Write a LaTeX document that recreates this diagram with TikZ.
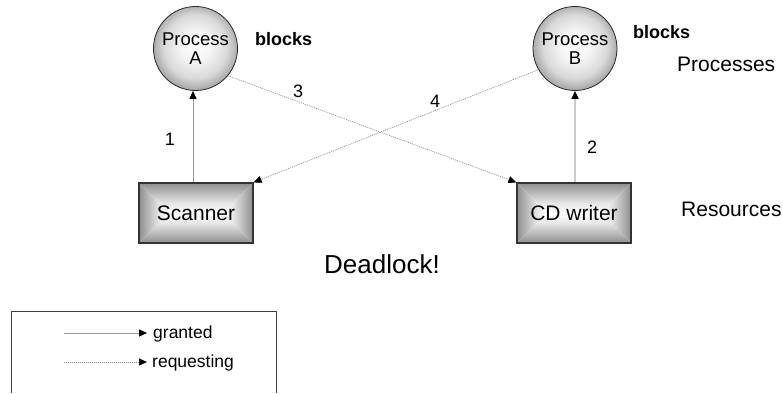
\documentclass[tikz,border=0pt]{standalone}
\usepackage{fontspec}
\setmainfont{Liberation Sans}
\usetikzlibrary{arrows.meta,calc}

\colorlet{edgegray}{black!44}

% soft gradients: light centre, grey rim
\pgfdeclareradialshading{procglow}{\pgfpoint{0bp}{2bp}}{%
  color(0bp)=(white); color(9bp)=(black!4); color(19bp)=(black!15);
  color(25bp)=(black!33); color(50bp)=(black!33)}
\pgfdeclareverticalshading{boxfade}{100bp}{%
  color(0bp)=(white); color(25bp)=(white); color(42bp)=(black!10);
  color(75bp)=(edgegray); color(100bp)=(edgegray)}

\tikzset{
  ptip/.tip={Triangle[length=8pt,width=7pt,color=black]},
  proc/.style={circle, draw=black!85, line width=0.8pt, minimum size=84pt,
    inner sep=0pt, shading=procglow,
    align=center, font=\fontsize{18.5}{19}\selectfont},
  res/.style={draw=black!80, line width=1.2pt, minimum width=114pt,
    minimum height=60pt, inner sep=0pt, font=\fontsize{21}{24}\selectfont,
    path picture={
      \path (path picture bounding box.north west) coordinate (pnw)
            (path picture bounding box.north east) coordinate (pne)
            (path picture bounding box.south west) coordinate (psw)
            (path picture bounding box.south east) coordinate (pse);
      \shade[shading=boxfade, shading angle=0]
        (pnw) -- (pne) -- ($(pne)+(-30pt,-30pt)$) -- ($(pnw)+(30pt,-30pt)$) -- cycle;
      \shade[shading=boxfade, shading angle=180]
        (psw) -- (pse) -- ($(pse)+(-30pt,30pt)$) -- ($(psw)+(30pt,30pt)$) -- cycle;
      \shade[shading=boxfade, shading angle=90]
        (pnw) -- (psw) -- ($(pnw)+(30pt,-30pt)$) -- cycle;
      \shade[shading=boxfade, shading angle=-90]
        (pne) -- (pse) -- ($(pne)+(-30pt,-30pt)$) -- cycle;
    }},
  granted/.style={draw=black!40, line width=0.9pt, -ptip},
  granted2/.style={draw=black!20, line width=1.8pt, -ptip},
  requesting/.style={draw=black!45, line width=0.7pt, dash pattern=on 1pt off 1pt, -ptip},
  lbl/.style={anchor=base, inner sep=0pt, font=\fontsize{18}{20}\selectfont},
  blk/.style={anchor=base west, inner sep=0pt, font=\fontsize{18}{20}\bfseries\selectfont},
  big/.style={anchor=base west, inner sep=0pt, font=\fontsize{21}{24}\selectfont},
  legtxt/.style={anchor=base west, inner sep=0pt, font=\fontsize{17.5}{20}\selectfont},
}

\begin{document}
\begin{tikzpicture}[x=1pt, y=-1pt]
  \useasboundingbox (0,0) rectangle (783,393);

  % processes and resources
  \node[proc] (A) at (195.5,48.5) {Process\\A};
  \node[proc] (B) at (575,48.5) {Process\\B};
  \node[res] (S) at (196,213) {Scanner};
  \node[res] (W) at (574,213) {CD writer};

  % allocation edges
  \draw[granted] (S.north -| 193,0) -- (A.south -| 193,0);
  \draw[granted2] (W.north -| B.south) -- (B.south);
  \draw[requesting] (A.-40) -- (W.north west);
  \draw[requesting] (B.210) -- (S.north east);

  % edge numbers
  \node[lbl] (n1) at (170,145) {1};
  \node[lbl] (n2) at (592,153) {2};
  \node[lbl] (n3) at (298,98) {3};
  \node[lbl] (n4) at (435,107) {4};

  % annotations
  \node[blk] (bA) at (255,46) {blocks};
  \node[blk] (bB) at (633,39) {blocks};
  \node[big] (lp) at (677,72) {Processes};
  \node[big] (lr) at (681,216) {Resources};
  \node[anchor=base west, inner sep=0pt, font=\fontsize{26}{30}\selectfont] (dl) at (324,273) {Deadlock!};

  % legend
  \draw[black!75, line width=0.9pt] (11,393) -- (11,311) -- (276,311) -- (276,393);
  \coordinate (g0) at (64,333);
  \coordinate (g1) at (147,333);
  \coordinate (r0) at (64,362);
  \coordinate (r1) at (147,362);
  \draw[granted] (g0) -- (g1);
  \draw[requesting] (r0) -- (r1);
  \node[legtxt] (lg) at (153,338) {granted};
  \node[legtxt] (lq) at (152,367) {requesting};
\end{tikzpicture}
\end{document}
